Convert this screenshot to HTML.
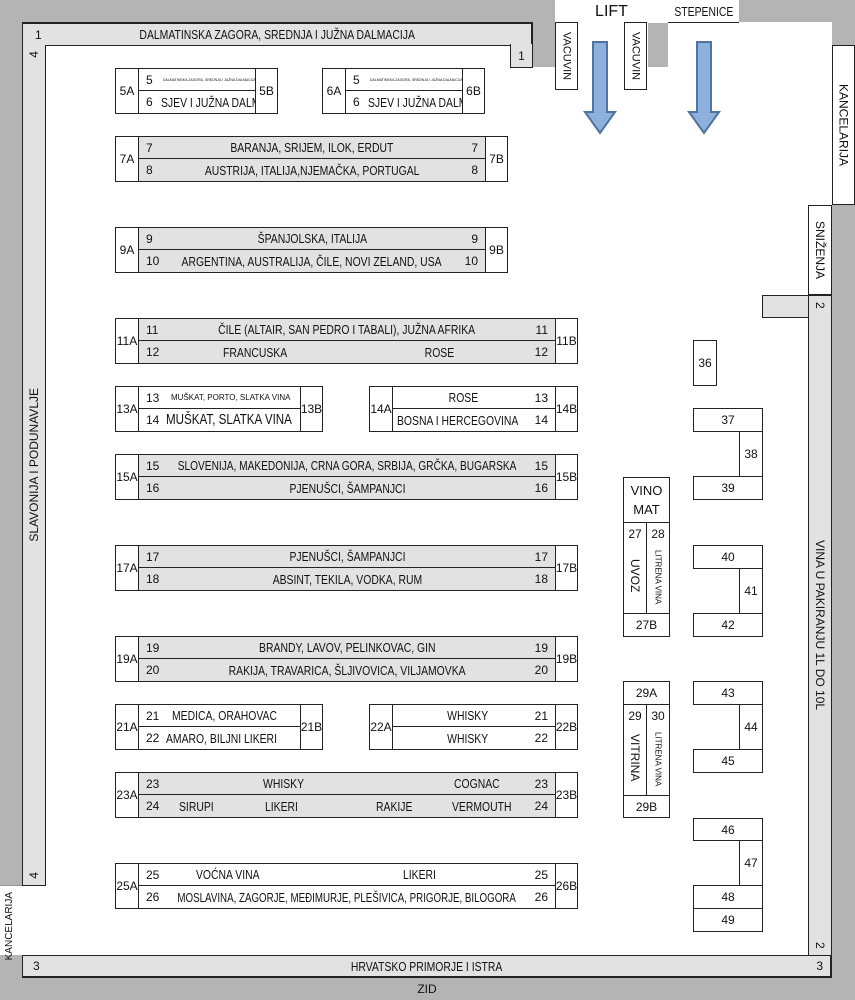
<!DOCTYPE html>
<html><head><meta charset="utf-8"><style>
*{margin:0;padding:0;box-sizing:border-box}
body{width:855px;height:1000px;position:relative;background:#b4b4b4;font-family:"Liberation Sans",sans-serif;font-size:12px;color:#111;overflow:hidden}
div{position:absolute}
.b{border:1px solid #222;display:flex;align-items:center;justify-content:center;background:#fff;white-space:nowrap}
.g{background:#e2e2e2}
.n{position:absolute;left:7px}
.m{position:absolute;right:7px}
.v{writing-mode:vertical-rl}
.u{writing-mode:vertical-rl;transform:rotate(180deg)}
.t{display:inline-block;transform:scaleX(.8);font-size:13px}
.tl{transform-origin:left center}
</style></head><body>
<!-- floor -->
<div style="left:22px;top:22px;width:810px;height:934px;background:#fff"></div>
<div style="left:532px;top:22px;width:23px;height:45px;background:#b4b4b4"></div>
<div style="left:648px;top:22px;width:20px;height:45px;background:#b4b4b4"></div>
<div style="left:832px;top:0;width:23px;height:1000px;background:#b4b4b4"></div>
<div style="left:0;top:885px;width:22px;height:70px;background:#fff;border-top:1px solid #999"><div class="u" style="left:4px;top:6px;font-size:10px">KANCELARIJA</div></div>
<div class="b" style="left:555px;top:0;width:113px;height:23px;border:none;font-size:16px">LIFT</div>
<div class="b" style="left:668px;top:0;width:71px;height:23px;border:none;border-bottom:1px solid #222"><span class="t">STEPENICE</span></div>
<div class="b v" style="left:555px;top:22px;width:23px;height:68px;font-size:11px">VACUVIN</div>
<div class="b v" style="left:624px;top:22px;width:23px;height:68px;font-size:11px">VACUVIN</div>
<div class="b v" style="left:832px;top:45px;width:23px;height:160px">KANCELARIJA</div>
<div class="b v" style="left:808px;top:205px;width:24px;height:90px">SNIŽENJA</div>
<!-- arrows -->
<svg style="position:absolute;left:0;top:0" width="855" height="1000">
<path d="M593,42 H607 V112 H615 L600,133 L585,112 H593 Z" fill="#8db0dd" stroke="#4f72a0" stroke-width="2"/>
<path d="M697,42 H711 V112 H719 L704,133 L689,112 H697 Z" fill="#8db0dd" stroke="#4f72a0" stroke-width="2"/>
</svg>
<!-- walls -->
<div class="b g" style="left:22px;top:22px;width:511px;height:24px;border-width:2px 2px 1px 1px"><span class="n" style="left:12px">1</span><span class="t">DALMATINSKA ZAGORA, SREDNJA I JUŽNA DALMACIJA</span></div>
<div class="b g" style="left:510px;top:44px;width:23px;height:24px;border-top:none">1</div>
<div class="b g" style="left:22px;top:45px;width:24px;height:841px;border-top:none"><span class="u" style="position:absolute;top:6px">4</span><span class="u">SLAVONIJA I PODUNAVLJE</span><span class="u" style="position:absolute;bottom:6px">4</span></div>
<div class="b g" style="left:22px;top:955px;width:810px;height:23px;border-width:1px 2px 2px 1px"><span class="n" style="left:10px">3</span><span class="t">HRVATSKO PRIMORJE I ISTRA</span><span class="m">3</span></div>
<div class="b" style="left:22px;top:978px;width:810px;height:22px;background:none;border:none">ZID</div>
<div class="b g" style="left:762px;top:295px;width:47px;height:23px;border-right:none"></div>
<div class="b g" style="left:808px;top:295px;width:24px;height:661px"><span class="v" style="position:absolute;top:6px">2</span><span class="v">VINA U PAKIRANJU 1L DO 10L</span><span class="v" style="position:absolute;bottom:6px">2</span></div>

<!-- 5/6 -->
<div class="b" style="left:115px;top:68px;width:24px;height:46px">5A</div>
<div class="b" style="left:138px;top:68px;width:118px;height:23px"><span class="n">5</span><span style="font-size:3.5px;position:absolute;left:24px">DALMATINSKA ZAGORA, SREDNJA I JUŽNA DALMACIJA</span></div>
<div class="b" style="left:138px;top:90px;width:118px;height:24px"><span class="n">6</span><span class="t tl" style="position:absolute;left:22px">SJEV I JUŽNA DALM</span></div>
<div class="b" style="left:255px;top:68px;width:23px;height:46px">5B</div>
<div class="b" style="left:322px;top:68px;width:24px;height:46px">6A</div>
<div class="b" style="left:345px;top:68px;width:118px;height:23px"><span class="n">5</span><span style="font-size:3.5px;position:absolute;left:24px">DALMATINSKA ZAGORA, SREDNJA I JUŽNA DALMACIJA</span></div>
<div class="b" style="left:345px;top:90px;width:118px;height:24px"><span class="n">6</span><span class="t tl" style="position:absolute;left:22px">SJEV I JUŽNA DALM</span></div>
<div class="b" style="left:462px;top:68px;width:23px;height:46px">6B</div>

<!-- 7/8 -->
<div class="b" style="left:115px;top:136px;width:24px;height:46px">7A</div>
<div class="b g" style="left:138px;top:136px;width:348px;height:23px"><span class="n">7</span><span class="t">BARANJA, SRIJEM, ILOK, ERDUT</span><span class="m">7</span></div>
<div class="b g" style="left:138px;top:158px;width:348px;height:24px"><span class="n">8</span><span class="t">AUSTRIJA, ITALIJA,NJEMAČKA, PORTUGAL</span><span class="m">8</span></div>
<div class="b" style="left:485px;top:136px;width:23px;height:46px">7B</div>
<!-- 9/10 -->
<div class="b" style="left:115px;top:227px;width:24px;height:46px">9A</div>
<div class="b g" style="left:138px;top:227px;width:348px;height:23px"><span class="n">9</span><span class="t">ŠPANJOLSKA, ITALIJA</span><span class="m">9</span></div>
<div class="b g" style="left:138px;top:249px;width:348px;height:24px"><span class="n">10</span><span class="t">ARGENTINA, AUSTRALIJA, ČILE, NOVI ZELAND, USA</span><span class="m">10</span></div>
<div class="b" style="left:485px;top:227px;width:23px;height:46px">9B</div>
<!-- 11/12 -->
<div class="b" style="left:115px;top:318px;width:24px;height:46px">11A</div>
<div class="b g" style="left:138px;top:318px;width:418px;height:23px"><span class="n">11</span><span class="t">ČILE (ALTAIR, SAN PEDRO I TABALI), JUŽNA AFRIKA</span><span class="m">11</span></div>
<div class="b g" style="left:138px;top:340px;width:418px;height:24px"><span class="n">12</span><span style="position:absolute;left:76px" class="t">FRANCUSKA</span><span style="position:absolute;left:282px" class="t">ROSE</span><span class="m">12</span></div>
<div class="b" style="left:555px;top:318px;width:23px;height:46px">11B</div>
<!-- 13/14 -->
<div class="b" style="left:115px;top:386px;width:24px;height:46px">13A</div>
<div class="b" style="left:138px;top:386px;width:163px;height:23px"><span class="n">13</span><span style="font-size:8px;position:absolute;left:32px">MUŠKAT, PORTO, SLATKA VINA</span></div>
<div class="b" style="left:138px;top:408px;width:163px;height:24px"><span class="n">14</span><span class="t tl" style="position:absolute;left:27px;font-size:14.5px">MUŠKAT, SLATKA VINA</span></div>
<div class="b" style="left:300px;top:386px;width:23px;height:46px">13B</div>
<div class="b" style="left:369px;top:386px;width:24px;height:46px">14A</div>
<div class="b" style="left:392px;top:386px;width:164px;height:23px"><span class="t" style="margin-right:22px">ROSE</span><span class="m">13</span></div>
<div class="b" style="left:392px;top:408px;width:164px;height:24px"><span class="t tl" style="position:absolute;left:4px">BOSNA I HERCEGOVINA</span><span class="m">14</span></div>
<div class="b" style="left:555px;top:386px;width:23px;height:46px">14B</div>
<!-- 15/16 -->
<div class="b" style="left:115px;top:454px;width:24px;height:46px">15A</div>
<div class="b g" style="left:138px;top:454px;width:418px;height:23px"><span class="n">15</span><span class="t" style="transform:scaleX(.78)">SLOVENIJA, MAKEDONIJA, CRNA GORA, SRBIJA, GRČKA, BUGARSKA</span><span class="m">15</span></div>
<div class="b g" style="left:138px;top:476px;width:418px;height:24px"><span class="n">16</span><span class="t">PJENUŠCI, ŠAMPANJCI</span><span class="m">16</span></div>
<div class="b" style="left:555px;top:454px;width:23px;height:46px">15B</div>
<!-- 17/18 -->
<div class="b" style="left:115px;top:545px;width:24px;height:46px">17A</div>
<div class="b g" style="left:138px;top:545px;width:418px;height:23px"><span class="n">17</span><span class="t">PJENUŠCI, ŠAMPANJCI</span><span class="m">17</span></div>
<div class="b g" style="left:138px;top:567px;width:418px;height:24px"><span class="n">18</span><span class="t">ABSINT, TEKILA, VODKA, RUM</span><span class="m">18</span></div>
<div class="b" style="left:555px;top:545px;width:23px;height:46px">17B</div>
<!-- 19/20 -->
<div class="b" style="left:115px;top:636px;width:24px;height:46px">19A</div>
<div class="b g" style="left:138px;top:636px;width:418px;height:23px"><span class="n">19</span><span class="t">BRANDY, LAVOV, PELINKOVAC, GIN</span><span class="m">19</span></div>
<div class="b g" style="left:138px;top:658px;width:418px;height:24px"><span class="n">20</span><span class="t">RAKIJA, TRAVARICA, ŠLJIVOVICA, VILJAMOVKA</span><span class="m">20</span></div>
<div class="b" style="left:555px;top:636px;width:23px;height:46px">19B</div>
<!-- 21/22 -->
<div class="b" style="left:115px;top:704px;width:24px;height:46px">21A</div>
<div class="b" style="left:138px;top:704px;width:163px;height:23px"><span class="n">21</span><span class="t tl" style="position:absolute;left:33px">MEDICA, ORAHOVAC</span></div>
<div class="b" style="left:138px;top:726px;width:163px;height:24px"><span class="n">22</span><span class="t tl" style="position:absolute;left:27px">AMARO, BILJNI LIKERI</span></div>
<div class="b" style="left:300px;top:704px;width:23px;height:46px">21B</div>
<div class="b" style="left:369px;top:704px;width:24px;height:46px">22A</div>
<div class="b" style="left:392px;top:704px;width:164px;height:23px"><span class="t" style="margin-right:12px">WHISKY</span><span class="m">21</span></div>
<div class="b" style="left:392px;top:726px;width:164px;height:24px"><span class="t" style="margin-right:12px">WHISKY</span><span class="m">22</span></div>
<div class="b" style="left:555px;top:704px;width:23px;height:46px">22B</div>
<!-- 23/24 -->
<div class="b" style="left:115px;top:772px;width:24px;height:46px">23A</div>
<div class="b g" style="left:138px;top:772px;width:418px;height:23px"><span class="n">23</span><span class="t tl" style="position:absolute;left:124px">WHISKY</span><span class="t tl" style="position:absolute;left:315px">COGNAC</span><span class="m">23</span></div>
<div class="b g" style="left:138px;top:794px;width:418px;height:24px"><span class="n">24</span><span class="t tl" style="position:absolute;left:40px">SIRUPI</span><span class="t tl" style="position:absolute;left:126px">LIKERI</span><span class="t tl" style="position:absolute;left:237px">RAKIJE</span><span class="t tl" style="position:absolute;left:313px">VERMOUTH</span><span class="m">24</span></div>
<div class="b" style="left:555px;top:772px;width:23px;height:46px">23B</div>
<!-- 25/26 -->
<div class="b" style="left:115px;top:863px;width:24px;height:46px">25A</div>
<div class="b" style="left:138px;top:863px;width:418px;height:23px"><span class="n">25</span><span class="t tl" style="position:absolute;left:57px">VOĆNA VINA</span><span class="t tl" style="position:absolute;left:264px">LIKERI</span><span class="m">25</span></div>
<div class="b" style="left:138px;top:885px;width:418px;height:24px"><span class="n">26</span><span class="t" style="transform:scaleX(.75)">MOSLAVINA, ZAGORJE, MEĐIMURJE, PLEŠIVICA, PRIGORJE, BILOGORA</span><span class="m">26</span></div>
<div class="b" style="left:555px;top:863px;width:23px;height:46px">26B</div>

<!-- vino mat -->
<div class="b" style="left:623px;top:477px;width:47px;height:46px;font-size:13px;line-height:19px;text-align:center;white-space:normal">VINO<br>MAT</div>
<div class="b" style="left:623px;top:522px;width:24px;height:92px"><span style="position:absolute;top:4px">27</span><span class="v" style="margin-top:16px">UVOZ</span></div>
<div class="b" style="left:646px;top:522px;width:24px;height:92px"><span style="position:absolute;top:4px">28</span><span class="v" style="font-size:8px;margin-top:18px">LITRENA VINA</span></div>
<div class="b" style="left:623px;top:613px;width:47px;height:24px">27B</div>
<div class="b" style="left:623px;top:681px;width:47px;height:24px">29A</div>
<div class="b" style="left:623px;top:704px;width:24px;height:92px"><span style="position:absolute;top:4px">29</span><span class="v" style="margin-top:16px">VITRINA</span></div>
<div class="b" style="left:646px;top:704px;width:24px;height:92px"><span style="position:absolute;top:4px">30</span><span class="v" style="font-size:8px;margin-top:18px">LITRENA VINA</span></div>
<div class="b" style="left:623px;top:795px;width:47px;height:23px">29B</div>

<!-- right units -->
<div class="b" style="left:693px;top:340px;width:24px;height:46px">36</div>
<div class="b" style="left:693px;top:408px;width:70px;height:24px">37</div>
<div class="b" style="left:739px;top:431px;width:24px;height:46px">38</div>
<div class="b" style="left:693px;top:476px;width:70px;height:24px">39</div>
<div class="b" style="left:693px;top:545px;width:70px;height:24px">40</div>
<div class="b" style="left:739px;top:568px;width:24px;height:46px">41</div>
<div class="b" style="left:693px;top:613px;width:70px;height:24px">42</div>
<div class="b" style="left:693px;top:681px;width:70px;height:24px">43</div>
<div class="b" style="left:739px;top:704px;width:24px;height:46px">44</div>
<div class="b" style="left:693px;top:749px;width:70px;height:24px">45</div>
<div class="b" style="left:693px;top:818px;width:70px;height:23px">46</div>
<div class="b" style="left:739px;top:840px;width:24px;height:46px">47</div>
<div class="b" style="left:693px;top:885px;width:70px;height:24px">48</div>
<div class="b" style="left:693px;top:908px;width:70px;height:24px">49</div>
</body></html>
